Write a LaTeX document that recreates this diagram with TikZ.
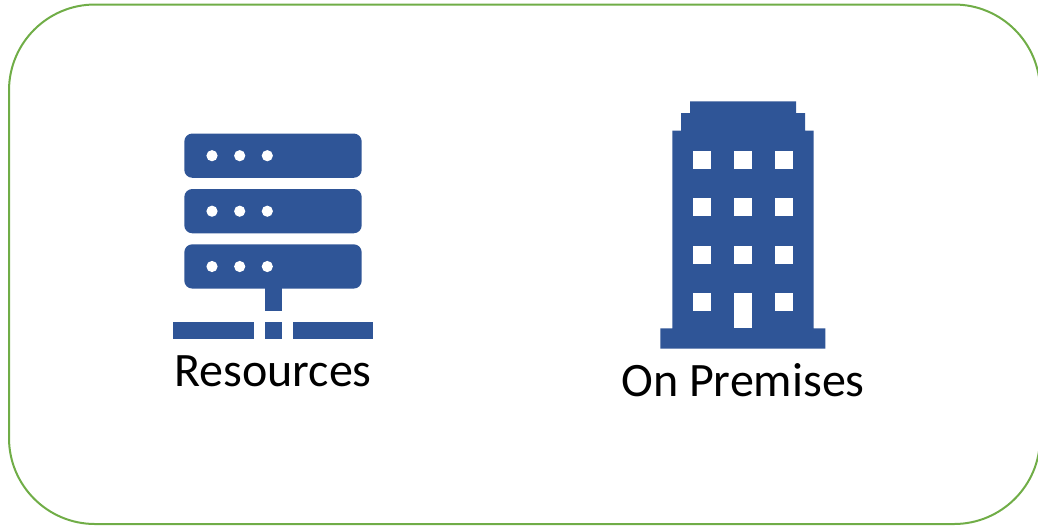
\documentclass[tikz,border=0pt]{standalone}
\usepackage{fontspec}
\setmainfont{Carlito}
\definecolor{iconblue}{HTML}{2F5597}
\definecolor{framegreen}{HTML}{70AD47}
\tikzset{
  px/.style={x=0.75pt,y=-0.75pt},
  icon/.style={fill=iconblue,draw=none},
  hole/.style={fill=white,draw=none},
  caption/.style={font=\fontsize{36pt}{42pt}\selectfont,text=black,inner sep=0pt,anchor=base}
}
\newcommand{\winbox}[2]{\fill[hole] (#1,#2) rectangle ++(18,18);}
\begin{document}
\begin{tikzpicture}[px]
\useasboundingbox (0,0) rectangle (1038,526);
\begin{scope}
\clip (0,0) rectangle (1038,526);
\draw[framegreen,line width=1.5pt,rounded corners=64.5pt] (9,4.5) rectangle (1040,524);
\end{scope}
% server icon
\foreach \t in {133.5,189,244.3}{
  \fill[icon,rounded corners=6pt] (184.3,\t) rectangle (361.7,\t+44.3);
  \foreach \cx in {212,239.7,267.3}
    \fill[hole] (\cx,\t+22.2) circle [radius=4.2pt];
}
\fill[icon] (265,288) rectangle (282,311);
\fill[icon] (173,322) rectangle (254,338.7);
\fill[icon] (265,322) rectangle (282,338.7);
\fill[icon] (292.5,322) rectangle (373,338.7);
% building icon
\fill[icon] (690,101.3) -- (796,101.3) -- (796,113) -- (805,113) -- (805,130.7) -- (813.7,130.7)
  -- (813.7,328.3) -- (825.3,328.3) -- (825.3,348.7) -- (660.3,348.7) -- (660.3,328.3)
  -- (672.3,328.3) -- (672.3,130.7) -- (681,130.7) -- (681,113) -- (690,113) -- cycle;
\foreach \wy in {151,198.3,245.7}
  \foreach \wx in {692.7,734,775.3}
    \winbox{\wx}{\wy}
\winbox{692.7}{292.7}
\winbox{775.3}{292.7}
\fill[hole] (734,292.7) rectangle (752,328.3);
% captions
\node[caption] (resources) at (273,386) {Resources};
\node[caption] (premises) at (743,396) {On Premises};
\end{tikzpicture}
\end{document}
